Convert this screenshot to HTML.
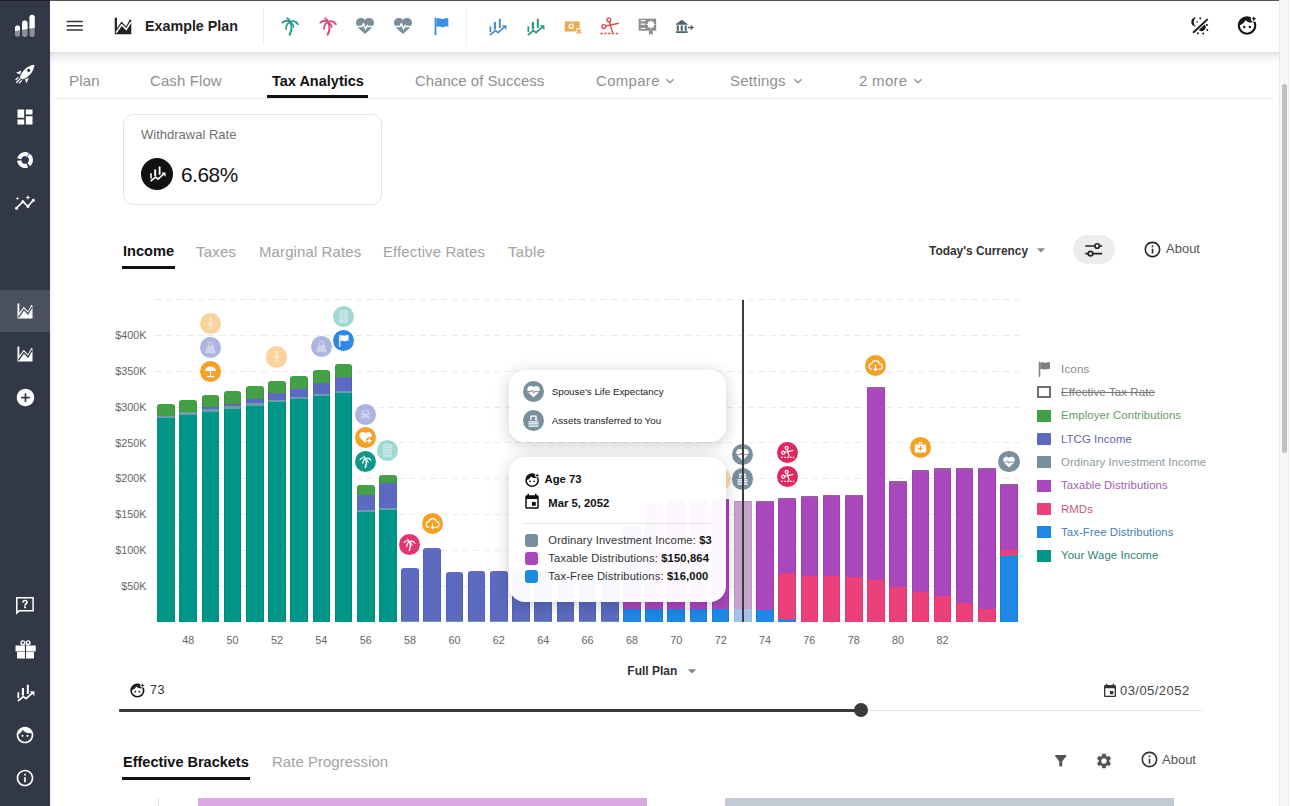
<!DOCTYPE html>
<html><head><meta charset="utf-8"><title>Tax Analytics</title>
<style>
html,body{margin:0;padding:0;}
body{width:1290px;height:806px;overflow:hidden;position:relative;background:#fff;font-family:"Liberation Sans", sans-serif;}
.t{position:absolute;white-space:nowrap;font-family:"Liberation Sans", sans-serif;}
svg{display:block}
</style></head><body>
<div style="position:absolute;left:0.00px;top:0.00px;width:50.00px;height:806.00px;background:#323846;"></div>
<div style="position:absolute;left:0.00px;top:290.00px;width:50.00px;height:42.00px;background:#4a505d;"></div>
<svg style="position:absolute;left:13.0px;top:14.0px;" width="24" height="24" viewBox="0 0 24 24" fill="#fff"><defs><clipPath id="lg"><path d="M2 14.1a2.5 2.5 0 0 1 5 0v6.2a2.5 2.5 0 0 1-5 0zM9.1 9.1a2.7 2.7 0 0 1 5.4 0v11.2a2.7 2.7 0 0 1-5.4 0zM16.5 3.4a2.6 2.6 0 0 1 5.2 0v16.9a2.6 2.6 0 0 1-5.2 0z"/></clipPath></defs><g clip-path="url(#lg)"><rect x="0" y="0" width="24" height="26" fill="#8b909b"/><path d="M0 0H24V13.4L0 17.4z" fill="#fff"/></g></svg>
<svg style="position:absolute;left:15.0px;top:64.0px;" width="20" height="20" viewBox="0 0 24 24" fill="#fff"><path d="M23.2 0.8C17 1.2 10.5 6 7.4 12.2L5.8 15.6l3 3 3.4-1.6C18.4 13.9 23 7.3 23.2 0.8z"/><circle cx="16.4" cy="7.6" r="1.9" fill="#323846"/><path d="M7.6 7.8L1.2 10.6l4.8 2zM16.6 16.8l-2.8 6.4-2-4.8z"/><path d="M1.5 22.5l5.2-5.2M4.6 23.2l3.4-3.4M0.8 19.2l3.4-3.4" stroke="#fff" stroke-width="1.5"/></svg>
<svg style="position:absolute;left:15.0px;top:107.0px;" width="20" height="20" viewBox="0 0 24 24" fill="#fff"><path d="M3 13h8V3H3v10zm0 8h8v-6H3v6zm10 0h8V11h-8v10zm0-18v6h8V3h-8z" /></svg>
<svg style="position:absolute;left:15.0px;top:150.0px;" width="20" height="20" viewBox="0 0 24 24" fill="#fff"><circle cx="12" cy="12" r="7.1" fill="none" stroke="#fff" stroke-width="5" stroke-dasharray="12.9 1.97" transform="rotate(-55 12 12)"/></svg>
<svg style="position:absolute;left:15.0px;top:192.0px;" width="20" height="20" viewBox="0 0 24 24" fill="#fff"><path d="M1.5 19.5L9.5 11.5l6 5.8 6.8-7.7" fill="none" stroke="#fff" stroke-width="2"/><circle cx="1.8" cy="19.4" r="1.8"/><circle cx="9.5" cy="11.5" r="1.8"/><circle cx="15.5" cy="17.3" r="1.8"/><circle cx="22" cy="9.8" r="1.8"/><path d="M3 5.5l.6 1.7 1.7.6-1.7.6L3 10.1l-.6-1.7L.7 7.8l1.7-.6zM15.5 3.5l.8 2.2 2.2.8-2.2.8-.8 2.2-.8-2.2-2.2-.8 2.2-.8z" /></svg>
<svg style="position:absolute;left:15.0px;top:301.0px;" width="20" height="20" viewBox="0 0 24 24" fill="#fff"><path d="M3 3h2.2v11.2L10.5 7l5 5.2L19.8 4.5 21 5.4V21H3z" /><path d="M4.2 19.6L10.6 10.2l5 5.2L20.6 7.2" fill="none" stroke="#4a505d" stroke-width="1.6"/></svg>
<svg style="position:absolute;left:15.0px;top:344.0px;" width="20" height="20" viewBox="0 0 24 24" fill="#fff"><path d="M3 3h2.2v11.2L10.5 7l5 5.2L19.8 4.5 21 5.4V21H3z" /><path d="M4.2 19.6L10.6 10.2l5 5.2L20.6 7.2" fill="none" stroke="#323846" stroke-width="1.6"/></svg>
<svg style="position:absolute;left:14.5px;top:386.5px;" width="21" height="21" viewBox="0 0 24 24" fill="#fff"><path d="M12 2C6.48 2 2 6.48 2 12s4.48 10 10 10 10-4.48 10-10S17.52 2 12 2zm5 11h-4v4h-2v-4H7v-2h4V7h2v4h4v2z" /></svg>
<svg style="position:absolute;left:15.0px;top:595.0px;" width="20" height="20" viewBox="0 0 24 24" fill="#fff"><path fill-rule="evenodd" d="M1.2 2.4h21.4v17.5H5.5L1.2 23.6zM3 4.2v15.1l1.8-1.2h16V4.2z"/><path d="M12 5.8c-2 0-3.4 1.3-3.4 3.1h2.1c0-.8.5-1.3 1.3-1.3s1.3.5 1.3 1.2c0 1.4-2.4 1.4-2.4 3.9h2.1c0-1.8 2.4-2 2.4-4 0-1.8-1.4-2.9-3.4-2.9zM10.9 13.6h2.2v2.2h-2.2z" /></svg>
<svg style="position:absolute;left:14.5px;top:638.5px;" width="21" height="21" viewBox="0 0 24 24" fill="#fff"><path d="M0.6 7.4h23.1v6.9H0.6zM2.3 14.9h19.4v7.4H2.3z"/><circle cx="9" cy="4.2" r="2.1" fill="none" stroke="#fff" stroke-width="1.6"/><circle cx="15" cy="4.2" r="2.1" fill="none" stroke="#fff" stroke-width="1.6"/><path d="M12 7.4v14.9" stroke="#323846" stroke-width="1.3"/></svg>
<svg style="position:absolute;left:14.5px;top:681.5px;" width="21" height="21" viewBox="0 0 24 24" fill="#fff"><path d="M2.8 11.6h2v6.6h-2zM7.8 6.8h2.5v8.5H7.8zM13.5 3.1h2.3v10.6h-2.3z" /><path d="M3.3 21.7L9.6 16.6l3.1 2.5 7.6-6.9" fill="none" stroke="#fff" stroke-width="2"/><path d="M16.8 10.6h5.4v5.4z" /></svg>
<svg style="position:absolute;left:15.0px;top:725.0px;" width="20" height="20" viewBox="0 0 24 24" fill="#fff"><path d="M12 2C6.48 2 2 6.48 2 12s4.48 10 10 10 10-4.48 10-10S17.52 2 12 2zm0 18c-4.41 0-8-3.59-8-8 0-.29.02-.58.05-.86 2.36-1.05 4.23-2.98 5.21-5.37C11.07 8.33 14.05 10 17.42 10c.78 0 1.53-.09 2.25-.26.21.71.33 1.47.33 2.26 0 4.41-3.59 8-8 8z" /><circle cx="9" cy="13" r="1.25"/><circle cx="15" cy="13" r="1.25"/></svg>
<svg style="position:absolute;left:15.0px;top:768.0px;" width="20" height="20" viewBox="0 0 24 24" fill="#fff"><path d="M11 7h2v2h-2zm0 4h2v6h-2zm1-9C6.48 2 2 6.48 2 12s4.48 10 10 10 10-4.48 10-10S17.52 2 12 2zm0 18c-4.41 0-8-3.59-8-8s3.59-8 8-8 8 3.59 8 8-3.59 8-8 8z" /></svg>
<div style="position:absolute;left:0.00px;top:0.00px;width:50.00px;height:1.00px;background:#1c2030;z-index:5"></div>
<div style="position:absolute;left:50.00px;top:0.00px;width:1229.00px;height:1.00px;background:#555555;z-index:5"></div>
<div style="position:absolute;left:50.00px;top:51.50px;width:1229.00px;height:13.00px;background:linear-gradient(rgba(60,70,100,0.15),rgba(60,70,100,0.09) 30%,rgba(60,70,100,0.03) 65%,rgba(60,70,100,0));z-index:2"></div>
<div style="position:absolute;left:50.00px;top:52.00px;width:5.00px;height:754.00px;background:linear-gradient(90deg,rgba(60,70,100,0.06),rgba(60,70,100,0));z-index:2"></div>
<div style="position:absolute;left:50.00px;top:1.00px;width:1229.00px;height:50.50px;background:#fff;z-index:3"></div>
<div style="position:absolute;left:0;top:0;width:1290px;height:52px;z-index:4"><svg style="position:absolute;left:64.2px;top:15.2px;" width="21.5" height="21.5" viewBox="0 0 24 24" fill="#333"><path d="M3 17.6h18v-1.7H3zm0-4.75h18v-1.7H3zM3 6.4v1.7h18V6.4z" /></svg>
<svg style="position:absolute;left:111.7px;top:14.8px;" width="22" height="22" viewBox="0 0 24 24" fill="#212121"><path d="M3 3h2.4v11.5L10.4 7.2l5 5.3L19.6 4.6 21 5.6V21H3z" /><path d="M4.4 19.4L10.6 10.6l5 5.1L20.7 7.5" fill="none" stroke="#fff" stroke-width="1.7"/></svg>
<div class="t" style="left:145px;top:15.8px;font-size:14.3px;line-height:20px;color:#212121;font-weight:700;">Example Plan</div>
<div style="position:absolute;left:263.00px;top:8.00px;width:1.00px;height:36.50px;background:#eceef0;"></div>
<div style="position:absolute;left:466.00px;top:8.00px;width:1.00px;height:36.50px;background:#eceef0;"></div>
<svg style="position:absolute;left:279.0px;top:15.0px;color:#2a9d8f" width="22" height="22" viewBox="0 0 24 24" fill="#26a69a"><g fill="none" stroke="currentColor" stroke-linecap="round"><path d="M12.6 8.5C14.2 12.5 13.8 17 11.6 21.6" stroke-width="2.2"/><path d="M12.5 7.6C10 5.6 6 5.8 3.6 8.4" stroke-width="2"/><path d="M12.4 7.8C9.6 8.5 7.8 11 7.6 15.2" stroke-width="1.8"/><path d="M12.5 7.6C15.2 6 18.6 7 20.6 10" stroke-width="2"/><path d="M12.8 8C14.6 9 15.8 10.8 16.2 13.4" stroke-width="1.6"/><path d="M12.4 7.4C11.6 5.2 10.4 3.8 8.6 3.2" stroke-width="1.6"/></g></svg>
<svg style="position:absolute;left:317.0px;top:15.0px;color:#d94a7a" width="22" height="22" viewBox="0 0 24 24" fill="#e0457b"><g fill="none" stroke="currentColor" stroke-linecap="round"><path d="M12.6 8.5C14.2 12.5 13.8 17 11.6 21.6" stroke-width="2.2"/><path d="M12.5 7.6C10 5.6 6 5.8 3.6 8.4" stroke-width="2"/><path d="M12.4 7.8C9.6 8.5 7.8 11 7.6 15.2" stroke-width="1.8"/><path d="M12.5 7.6C15.2 6 18.6 7 20.6 10" stroke-width="2"/><path d="M12.8 8C14.6 9 15.8 10.8 16.2 13.4" stroke-width="1.6"/><path d="M12.4 7.4C11.6 5.2 10.4 3.8 8.6 3.2" stroke-width="1.6"/></g></svg>
<svg style="position:absolute;left:354.0px;top:15.0px;" width="22" height="22" viewBox="0 0 24 24" fill="#78909c"><path d="M12 20.6l-1.4-1.2C5.6 15 2.2 12.2 2.2 8.6 2.2 5.6 4.5 3.4 7.5 3.4c1.7 0 3.4.7 4.5 2C13.1 4.1 14.8 3.4 16.5 3.4c3 0 5.3 2.2 5.3 5.2 0 3.6-3.4 6.4-8.4 10.8z" /><path d="M1 12.6h7.6l1.6-2.8 2.4 5.2 1.8-3.4 1 1h7.6" fill="none" stroke="#fff" stroke-width="1.7"/></svg>
<svg style="position:absolute;left:392.0px;top:15.0px;" width="22" height="22" viewBox="0 0 24 24" fill="#78909c"><path d="M12 20.6l-1.4-1.2C5.6 15 2.2 12.2 2.2 8.6 2.2 5.6 4.5 3.4 7.5 3.4c1.7 0 3.4.7 4.5 2C13.1 4.1 14.8 3.4 16.5 3.4c3 0 5.3 2.2 5.3 5.2 0 3.6-3.4 6.4-8.4 10.8z" /><path d="M1 12.6h7.6l1.6-2.8 2.4 5.2 1.8-3.4 1 1h7.6" fill="none" stroke="#fff" stroke-width="1.7"/></svg>
<svg style="position:absolute;left:430.0px;top:15.0px;" width="22" height="22" viewBox="0 0 24 24" fill="#3d8fe0"><path d="M5 3h2v19H5z" /><path d="M7 4c3-1.5 5 1 8 0s4-1 5 0v9c-1-1-2-1-5 0s-5-1.5-8 0z" /></svg>
<svg style="position:absolute;left:486.5px;top:15.5px;color:#4b91cf" width="21" height="21" viewBox="0 0 24 24" fill="#4b91cf"><path d="M2.8 11.6h2v6.6h-2zM7.8 6.8h2.5v8.5H7.8zM13.5 3.1h2.3v10.6h-2.3z" /><path d="M3.3 21.7L9.6 16.6l3.1 2.5 7.6-6.9" fill="none" stroke="currentColor" stroke-width="2"/><path d="M16.8 10.6h5.4v5.4z" /></svg>
<svg style="position:absolute;left:524.5px;top:15.5px;color:#2a9485" width="21" height="21" viewBox="0 0 24 24" fill="#2a9485"><path d="M2.8 11.6h2v6.6h-2zM7.8 6.8h2.5v8.5H7.8zM13.5 3.1h2.3v10.6h-2.3z" /><path d="M3.3 21.7L9.6 16.6l3.1 2.5 7.6-6.9" fill="none" stroke="currentColor" stroke-width="2"/><path d="M16.8 10.6h5.4v5.4z" /></svg>
<svg style="position:absolute;left:561.5px;top:15.5px;color:#e9ab4f" width="21" height="21" viewBox="0 0 24 24" fill="#e9ab4f"><path d="M3.1 6.3h17.2v11.4H3.1z" /><circle cx="10.5" cy="11.6" r="3" fill="#fff"/><circle cx="10.5" cy="11.6" r="1.5"/><path d="M16 14h8v10h-8z" fill="#fff"/><path d="M16.8 15.2l4.8 4.8M21.6 15.2l-4.8 4.8" stroke="currentColor" stroke-width="1.9"/></svg>
<svg style="position:absolute;left:599.0px;top:15.0px;color:#d8504c" width="22" height="22" viewBox="0 0 24 24" fill="none"><circle cx="10.7" cy="5.2" r="2.1" fill="none" stroke="currentColor" stroke-width="1.5"/><circle cx="5.2" cy="12.6" r="2.1" fill="none" stroke="currentColor" stroke-width="1.5"/><path d="M11.4 7.2l3.4 12.2M7.2 12l14.4-3" stroke="currentColor" stroke-width="1.6"/><path d="M1.5 20.2h21" stroke="currentColor" stroke-width="1.6" stroke-dasharray="2.6 1.6"/></svg>
<svg style="position:absolute;left:636.5px;top:15.5px;" width="21" height="21" viewBox="0 0 24 24" fill="#8d8d8d"><path d="M1.9 3.1h20v13.7h-20z" /><path d="M4.2 4.7h5.3v1.3H4.2zM4.2 8.7h5.3v1.3H4.2zM4.2 13.6h5.3v1.3H4.2z" fill="#fff"/><path d="M15.8 4.6l1.2 2 2.3-.4-.4 2.3 2 1.2-2 1.2.4 2.3-2.3-.4-1.2 2-1.2-2-2.3.4.4-2.3-2-1.2 2-1.2-.4-2.3 2.3.4z" fill="#fff"/><path d="M13.6 16.8h4.4v4.8l-2.2-1.4-2.2 1.4z" /></svg>
<svg style="position:absolute;left:673.5px;top:15.5px;" width="21" height="21" viewBox="0 0 24 24" fill="#50646f"><path d="M8.9 4.3L2.2 9.2v.9h13.4v-.9zM3.2 10.9h2.4v5.9H3.2zM7.7 10.9h2.4v5.9H7.7zM12.2 10.9h2.4v5.9h-2.4zM2.2 17.3h13.4v2H2.2z" /><path d="M16 12.3h3.2v-2.3l3.5 3.2-3.5 3.2v-2.3H16z" /></svg>
<svg style="position:absolute;left:1189.0px;top:15.0px;" width="22" height="22" viewBox="0 0 24 24" fill="#1a1a1a"><path d="M7.6 2.4A5.1 5.1 0 0 0 7.6 12.6 6.4 6.4 0 0 1 7.6 2.4z"/><path d="M12.2 1.8l.5 1.2 1.2.5-1.2.5-.5 1.2-.5-1.2-1.2-.5 1.2-.5z"/><circle cx="8.8" cy="7.6" r=".9"/><path d="M4.4 19.3L20.4 4.5" stroke="#1a1a1a" stroke-width="2.1"/><path d="M17.13 10.32A4.4 4.4 0 0 1 10.67 16.28z"/><circle cx="19.6" cy="10.8" r="1.1"/><circle cx="20" cy="16.3" r="1.1"/><circle cx="15.6" cy="20.3" r="1.1"/><circle cx="9.7" cy="19.8" r="1.1"/></svg>
<svg style="position:absolute;left:1235.5px;top:13.3px;" width="23" height="23" viewBox="0 0 24 24" fill="#1a1a1a"><circle cx="11.5" cy="13" r="8.6" fill="none" stroke="#111" stroke-width="2.2"/><path d="M3.2 12.8A8.6 8.6 0 0 1 19.2 9.2C16 10.6 12.4 10.2 10 7.6 8.6 10.4 6 12.3 3.2 12.8z" /><circle cx="8.6" cy="14.6" r="1.25"/><circle cx="14.4" cy="14.6" r="1.25"/><circle cx="18.6" cy="6.1" r="3.2" fill="#fff"/><path d="M18.6 3.4l.8 1.9 1.9.8-1.9.8-.8 1.9-.8-1.9-1.9-.8 1.9-.8z" /></svg>
</div>
<div style="position:absolute;left:54.00px;top:98.00px;width:1219.00px;height:1.00px;background:#ececec;"></div>
<div class="t" style="left:69px;top:70.0px;font-size:15px;line-height:21px;color:#909090;font-weight:400;letter-spacing:0.2px">Plan</div>
<div class="t" style="left:150px;top:70.0px;font-size:15px;line-height:21px;color:#909090;font-weight:400;letter-spacing:0.1px">Cash Flow</div>
<div class="t" style="left:272px;top:70.5px;font-size:14.5px;line-height:20px;color:#111;font-weight:700;">Tax Analytics</div>
<div style="position:absolute;left:267.00px;top:95.00px;width:101.00px;height:3.00px;background:#111;"></div>
<div class="t" style="left:415px;top:70.0px;font-size:15px;line-height:21px;color:#909090;font-weight:400;">Chance of Success</div>
<div class="t" style="left:596px;top:70.0px;font-size:15px;line-height:21px;color:#909090;font-weight:400;letter-spacing:0.3px">Compare</div>
<svg style="position:absolute;left:662.0px;top:72.5px;" width="16" height="16" viewBox="0 0 24 24" fill="#909090"><path d="M16.59 8.59L12 13.17 7.41 8.59 6 10l6 6 6-6z" /></svg>
<div class="t" style="left:730px;top:70.0px;font-size:15px;line-height:21px;color:#909090;font-weight:400;letter-spacing:0.2px">Settings</div>
<svg style="position:absolute;left:790.0px;top:72.5px;" width="16" height="16" viewBox="0 0 24 24" fill="#909090"><path d="M16.59 8.59L12 13.17 7.41 8.59 6 10l6 6 6-6z" /></svg>
<div class="t" style="left:859px;top:70.0px;font-size:15px;line-height:21px;color:#909090;font-weight:400;letter-spacing:0.3px">2 more</div>
<svg style="position:absolute;left:910.0px;top:72.5px;" width="16" height="16" viewBox="0 0 24 24" fill="#909090"><path d="M16.59 8.59L12 13.17 7.41 8.59 6 10l6 6 6-6z" /></svg>
<div style="position:absolute;left:122.50px;top:114.00px;width:259.50px;height:90.50px;background:#fff;border:1px solid #e3e3e3;border-radius:10px;box-sizing:border-box"></div>
<div class="t" style="left:141px;top:125.6px;font-size:13px;line-height:18px;color:#707070;font-weight:400;">Withdrawal Rate</div>
<div style="position:absolute;left:141px;top:157.5px;width:32px;height:32px;border-radius:50%;background:#111"></div>
<svg style="position:absolute;left:147.9px;top:164.1px;color:#fff" width="19" height="19" viewBox="0 0 24 24" fill="#fff"><path d="M2.8 11.6h2v6.6h-2zM7.8 6.8h2.5v8.5H7.8zM13.5 3.1h2.3v10.6h-2.3z" /><path d="M3.3 21.7L9.6 16.6l3.1 2.5 7.6-6.9" fill="none" stroke="currentColor" stroke-width="2"/><path d="M16.8 10.6h5.4v5.4z" /></svg>
<div class="t" style="left:181px;top:159.9px;font-size:20.8px;line-height:29px;color:#111;font-weight:400;letter-spacing:-0.45px">6.68%</div>
<div class="t" style="left:123px;top:241.0px;font-size:14.6px;line-height:20px;color:#111;font-weight:700;">Income</div>
<div style="position:absolute;left:122.00px;top:266.00px;width:52.50px;height:3.00px;background:#111;"></div>
<div class="t" style="left:196px;top:240.5px;font-size:15px;line-height:21px;color:#a3a3a3;font-weight:400;letter-spacing:0.2px">Taxes</div>
<div class="t" style="left:259px;top:240.5px;font-size:15px;line-height:21px;color:#a3a3a3;font-weight:400;letter-spacing:0.1px">Marginal Rates</div>
<div class="t" style="left:383px;top:240.5px;font-size:15px;line-height:21px;color:#a3a3a3;font-weight:400;letter-spacing:0.1px">Effective Rates</div>
<div class="t" style="left:508px;top:240.5px;font-size:15px;line-height:21px;color:#a3a3a3;font-weight:400;letter-spacing:0.3px">Table</div>
<div class="t" style="left:929px;top:242.5px;font-size:11.9px;line-height:16px;color:#333;font-weight:700;">Today's Currency</div>
<svg style="position:absolute;left:1031.0px;top:240.0px;" width="20" height="20" viewBox="0 0 24 24" fill="#888"><path d="M7 10l5 5 5-5z" /></svg>
<div style="position:absolute;left:1073.00px;top:235.00px;width:41.50px;height:29.00px;background:#ececec;border-radius:15px"></div>
<svg style="position:absolute;left:1084.0px;top:239.5px;" width="20" height="20" viewBox="0 0 24 24" fill="none"><path d="M1.5 7.2h11.5M18.6 7.2h3.2M1.5 16.4h3.5M10.6 16.4h11.2" stroke="#222" stroke-width="2"/><circle cx="15.8" cy="7.2" r="2.7" fill="none" stroke="#222" stroke-width="2"/><circle cx="7.8" cy="16.4" r="2.7" fill="none" stroke="#222" stroke-width="2"/></svg>
<svg style="position:absolute;left:1142.5px;top:239.5px;" width="19" height="19" viewBox="0 0 24 24" fill="#222"><path d="M11 7h2v2h-2zm0 4h2v6h-2zm1-9C6.48 2 2 6.48 2 12s4.48 10 10 10 10-4.48 10-10S17.52 2 12 2zm0 18c-4.41 0-8-3.59-8-8s3.59-8 8-8 8 3.59 8 8-3.59 8-8 8z" /></svg>
<div class="t" style="left:1166px;top:240.0px;font-size:13px;line-height:18px;color:#555;font-weight:400;">About</div>
<div style="position:absolute;left:155px;top:585.7px;width:866px;height:1px;background:repeating-linear-gradient(90deg,#ebebeb 0 6px,transparent 6px 10.6px)"></div>
<div class="t" style="right:1143.5px;top:578.9px;font-size:10.8px;line-height:15px;color:#666;font-weight:400;">$50K</div>
<div style="position:absolute;left:155px;top:549.9px;width:866px;height:1px;background:repeating-linear-gradient(90deg,#ebebeb 0 6px,transparent 6px 10.6px)"></div>
<div class="t" style="right:1143.5px;top:543.1px;font-size:10.8px;line-height:15px;color:#666;font-weight:400;">$100K</div>
<div style="position:absolute;left:155px;top:514.0px;width:866px;height:1px;background:repeating-linear-gradient(90deg,#ebebeb 0 6px,transparent 6px 10.6px)"></div>
<div class="t" style="right:1143.5px;top:507.2px;font-size:10.8px;line-height:15px;color:#666;font-weight:400;">$150K</div>
<div style="position:absolute;left:155px;top:478.2px;width:866px;height:1px;background:repeating-linear-gradient(90deg,#ebebeb 0 6px,transparent 6px 10.6px)"></div>
<div class="t" style="right:1143.5px;top:471.4px;font-size:10.8px;line-height:15px;color:#666;font-weight:400;">$200K</div>
<div style="position:absolute;left:155px;top:442.3px;width:866px;height:1px;background:repeating-linear-gradient(90deg,#ebebeb 0 6px,transparent 6px 10.6px)"></div>
<div class="t" style="right:1143.5px;top:435.5px;font-size:10.8px;line-height:15px;color:#666;font-weight:400;">$250K</div>
<div style="position:absolute;left:155px;top:406.5px;width:866px;height:1px;background:repeating-linear-gradient(90deg,#ebebeb 0 6px,transparent 6px 10.6px)"></div>
<div class="t" style="right:1143.5px;top:399.7px;font-size:10.8px;line-height:15px;color:#666;font-weight:400;">$300K</div>
<div style="position:absolute;left:155px;top:370.6px;width:866px;height:1px;background:repeating-linear-gradient(90deg,#ebebeb 0 6px,transparent 6px 10.6px)"></div>
<div class="t" style="right:1143.5px;top:363.8px;font-size:10.8px;line-height:15px;color:#666;font-weight:400;">$350K</div>
<div style="position:absolute;left:155px;top:334.7px;width:866px;height:1px;background:repeating-linear-gradient(90deg,#ebebeb 0 6px,transparent 6px 10.6px)"></div>
<div class="t" style="right:1143.5px;top:327.9px;font-size:10.8px;line-height:15px;color:#666;font-weight:400;">$400K</div>
<div style="position:absolute;left:155px;top:298.9px;width:866px;height:1px;background:repeating-linear-gradient(90deg,#ebebeb 0 6px,transparent 6px 10.6px)"></div>
<div style="position:absolute;left:157.25px;top:404.40px;width:17.6px;height:217.60px;overflow:hidden;border-radius:3px 3px 0 0"><div style="position:absolute;left:0;top:13.50px;width:100%;height:204.10px;background:#009688"></div><div style="position:absolute;left:0;top:11.50px;width:100%;height:2.00px;background:#6a9dad"></div><div style="position:absolute;left:0;top:0.00px;width:100%;height:11.50px;background:#43a047"></div><div style="position:absolute;inset:0;box-shadow:inset 1px 0 rgba(0,0,0,0.07),inset -1px 0 rgba(0,0,0,0.07)"></div></div>
<div style="position:absolute;left:179.43px;top:399.90px;width:17.6px;height:222.10px;overflow:hidden;border-radius:3px 3px 0 0"><div style="position:absolute;left:0;top:14.90px;width:100%;height:207.20px;background:#009688"></div><div style="position:absolute;left:0;top:12.60px;width:100%;height:2.30px;background:#6a9dad"></div><div style="position:absolute;left:0;top:0.00px;width:100%;height:12.60px;background:#43a047"></div><div style="position:absolute;inset:0;box-shadow:inset 1px 0 rgba(0,0,0,0.07),inset -1px 0 rgba(0,0,0,0.07)"></div></div>
<div style="position:absolute;left:201.62px;top:395.40px;width:17.6px;height:226.60px;overflow:hidden;border-radius:3px 3px 0 0"><div style="position:absolute;left:0;top:16.60px;width:100%;height:210.00px;background:#009688"></div><div style="position:absolute;left:0;top:13.80px;width:100%;height:2.80px;background:#6a9dad"></div><div style="position:absolute;left:0;top:12.10px;width:100%;height:1.70px;background:#5c6bc0"></div><div style="position:absolute;left:0;top:0.00px;width:100%;height:12.10px;background:#43a047"></div><div style="position:absolute;inset:0;box-shadow:inset 1px 0 rgba(0,0,0,0.07),inset -1px 0 rgba(0,0,0,0.07)"></div></div>
<div style="position:absolute;left:223.80px;top:391.10px;width:17.6px;height:230.90px;overflow:hidden;border-radius:3px 3px 0 0"><div style="position:absolute;left:0;top:17.90px;width:100%;height:213.00px;background:#009688"></div><div style="position:absolute;left:0;top:15.30px;width:100%;height:2.60px;background:#6a9dad"></div><div style="position:absolute;left:0;top:11.90px;width:100%;height:3.40px;background:#5c6bc0"></div><div style="position:absolute;left:0;top:0.00px;width:100%;height:11.90px;background:#43a047"></div><div style="position:absolute;inset:0;box-shadow:inset 1px 0 rgba(0,0,0,0.07),inset -1px 0 rgba(0,0,0,0.07)"></div></div>
<div style="position:absolute;left:245.99px;top:386.00px;width:17.6px;height:236.00px;overflow:hidden;border-radius:3px 3px 0 0"><div style="position:absolute;left:0;top:19.80px;width:100%;height:216.20px;background:#009688"></div><div style="position:absolute;left:0;top:17.40px;width:100%;height:2.40px;background:#6a9dad"></div><div style="position:absolute;left:0;top:12.60px;width:100%;height:4.80px;background:#5c6bc0"></div><div style="position:absolute;left:0;top:0.00px;width:100%;height:12.60px;background:#43a047"></div><div style="position:absolute;inset:0;box-shadow:inset 1px 0 rgba(0,0,0,0.07),inset -1px 0 rgba(0,0,0,0.07)"></div></div>
<div style="position:absolute;left:268.17px;top:381.30px;width:17.6px;height:240.70px;overflow:hidden;border-radius:3px 3px 0 0"><div style="position:absolute;left:0;top:21.20px;width:100%;height:219.50px;background:#009688"></div><div style="position:absolute;left:0;top:19.20px;width:100%;height:2.00px;background:#6a9dad"></div><div style="position:absolute;left:0;top:11.70px;width:100%;height:7.50px;background:#5c6bc0"></div><div style="position:absolute;left:0;top:0.00px;width:100%;height:11.70px;background:#43a047"></div><div style="position:absolute;inset:0;box-shadow:inset 1px 0 rgba(0,0,0,0.07),inset -1px 0 rgba(0,0,0,0.07)"></div></div>
<div style="position:absolute;left:290.35px;top:375.90px;width:17.6px;height:246.10px;overflow:hidden;border-radius:3px 3px 0 0"><div style="position:absolute;left:0;top:23.20px;width:100%;height:222.90px;background:#009688"></div><div style="position:absolute;left:0;top:21.50px;width:100%;height:1.70px;background:#6a9dad"></div><div style="position:absolute;left:0;top:13.10px;width:100%;height:8.40px;background:#5c6bc0"></div><div style="position:absolute;left:0;top:0.00px;width:100%;height:13.10px;background:#43a047"></div><div style="position:absolute;inset:0;box-shadow:inset 1px 0 rgba(0,0,0,0.07),inset -1px 0 rgba(0,0,0,0.07)"></div></div>
<div style="position:absolute;left:312.54px;top:370.10px;width:17.6px;height:251.90px;overflow:hidden;border-radius:3px 3px 0 0"><div style="position:absolute;left:0;top:25.70px;width:100%;height:226.20px;background:#009688"></div><div style="position:absolute;left:0;top:24.00px;width:100%;height:1.70px;background:#6a9dad"></div><div style="position:absolute;left:0;top:13.40px;width:100%;height:10.60px;background:#5c6bc0"></div><div style="position:absolute;left:0;top:0.00px;width:100%;height:13.40px;background:#43a047"></div><div style="position:absolute;inset:0;box-shadow:inset 1px 0 rgba(0,0,0,0.07),inset -1px 0 rgba(0,0,0,0.07)"></div></div>
<div style="position:absolute;left:334.72px;top:364.30px;width:17.6px;height:257.70px;overflow:hidden;border-radius:3px 3px 0 0"><div style="position:absolute;left:0;top:28.70px;width:100%;height:229.00px;background:#009688"></div><div style="position:absolute;left:0;top:26.50px;width:100%;height:2.20px;background:#6a9dad"></div><div style="position:absolute;left:0;top:13.10px;width:100%;height:13.40px;background:#5c6bc0"></div><div style="position:absolute;left:0;top:0.00px;width:100%;height:13.10px;background:#43a047"></div><div style="position:absolute;inset:0;box-shadow:inset 1px 0 rgba(0,0,0,0.07),inset -1px 0 rgba(0,0,0,0.07)"></div></div>
<div style="position:absolute;left:356.91px;top:485.20px;width:17.6px;height:136.80px;overflow:hidden;border-radius:3px 3px 0 0"><div style="position:absolute;left:0;top:26.80px;width:100%;height:110.00px;background:#009688"></div><div style="position:absolute;left:0;top:24.60px;width:100%;height:2.20px;background:#6a9dad"></div><div style="position:absolute;left:0;top:9.50px;width:100%;height:15.10px;background:#5c6bc0"></div><div style="position:absolute;left:0;top:0.00px;width:100%;height:9.50px;background:#43a047"></div><div style="position:absolute;inset:0;box-shadow:inset 1px 0 rgba(0,0,0,0.07),inset -1px 0 rgba(0,0,0,0.07)"></div></div>
<div style="position:absolute;left:379.09px;top:474.80px;width:17.6px;height:147.20px;overflow:hidden;border-radius:3px 3px 0 0"><div style="position:absolute;left:0;top:35.50px;width:100%;height:111.70px;background:#009688"></div><div style="position:absolute;left:0;top:33.30px;width:100%;height:2.20px;background:#6a9dad"></div><div style="position:absolute;left:0;top:8.70px;width:100%;height:24.60px;background:#5c6bc0"></div><div style="position:absolute;left:0;top:0.00px;width:100%;height:8.70px;background:#43a047"></div><div style="position:absolute;inset:0;box-shadow:inset 1px 0 rgba(0,0,0,0.07),inset -1px 0 rgba(0,0,0,0.07)"></div></div>
<div style="position:absolute;left:401.27px;top:568.20px;width:17.6px;height:53.80px;overflow:hidden;border-radius:3px 3px 0 0"><div style="position:absolute;left:0;top:52.60px;width:100%;height:1.20px;background:#78909c"></div><div style="position:absolute;left:0;top:0.00px;width:100%;height:52.60px;background:#5c6bc0"></div><div style="position:absolute;inset:0;box-shadow:inset 1px 0 rgba(0,0,0,0.07),inset -1px 0 rgba(0,0,0,0.07)"></div></div>
<div style="position:absolute;left:423.46px;top:548.20px;width:17.6px;height:73.80px;overflow:hidden;border-radius:3px 3px 0 0"><div style="position:absolute;left:0;top:72.60px;width:100%;height:1.20px;background:#78909c"></div><div style="position:absolute;left:0;top:0.00px;width:100%;height:72.60px;background:#5c6bc0"></div><div style="position:absolute;inset:0;box-shadow:inset 1px 0 rgba(0,0,0,0.07),inset -1px 0 rgba(0,0,0,0.07)"></div></div>
<div style="position:absolute;left:445.64px;top:572.00px;width:17.6px;height:50.00px;overflow:hidden;border-radius:3px 3px 0 0"><div style="position:absolute;left:0;top:48.80px;width:100%;height:1.20px;background:#78909c"></div><div style="position:absolute;left:0;top:0.00px;width:100%;height:48.80px;background:#5c6bc0"></div><div style="position:absolute;inset:0;box-shadow:inset 1px 0 rgba(0,0,0,0.07),inset -1px 0 rgba(0,0,0,0.07)"></div></div>
<div style="position:absolute;left:467.83px;top:571.40px;width:17.6px;height:50.60px;overflow:hidden;border-radius:3px 3px 0 0"><div style="position:absolute;left:0;top:49.40px;width:100%;height:1.20px;background:#78909c"></div><div style="position:absolute;left:0;top:0.00px;width:100%;height:49.40px;background:#5c6bc0"></div><div style="position:absolute;inset:0;box-shadow:inset 1px 0 rgba(0,0,0,0.07),inset -1px 0 rgba(0,0,0,0.07)"></div></div>
<div style="position:absolute;left:490.01px;top:570.70px;width:17.6px;height:51.30px;overflow:hidden;border-radius:3px 3px 0 0"><div style="position:absolute;left:0;top:50.10px;width:100%;height:1.20px;background:#78909c"></div><div style="position:absolute;left:0;top:0.00px;width:100%;height:50.10px;background:#5c6bc0"></div><div style="position:absolute;inset:0;box-shadow:inset 1px 0 rgba(0,0,0,0.07),inset -1px 0 rgba(0,0,0,0.07)"></div></div>
<div style="position:absolute;left:512.19px;top:571.00px;width:17.6px;height:51.00px;overflow:hidden;border-radius:3px 3px 0 0"><div style="position:absolute;left:0;top:49.80px;width:100%;height:1.20px;background:#78909c"></div><div style="position:absolute;left:0;top:0.00px;width:100%;height:49.80px;background:#5c6bc0"></div><div style="position:absolute;inset:0;box-shadow:inset 1px 0 rgba(0,0,0,0.07),inset -1px 0 rgba(0,0,0,0.07)"></div></div>
<div style="position:absolute;left:534.38px;top:571.00px;width:17.6px;height:51.00px;overflow:hidden;border-radius:3px 3px 0 0"><div style="position:absolute;left:0;top:49.80px;width:100%;height:1.20px;background:#78909c"></div><div style="position:absolute;left:0;top:0.00px;width:100%;height:49.80px;background:#5c6bc0"></div><div style="position:absolute;inset:0;box-shadow:inset 1px 0 rgba(0,0,0,0.07),inset -1px 0 rgba(0,0,0,0.07)"></div></div>
<div style="position:absolute;left:556.56px;top:571.00px;width:17.6px;height:51.00px;overflow:hidden;border-radius:3px 3px 0 0"><div style="position:absolute;left:0;top:49.80px;width:100%;height:1.20px;background:#78909c"></div><div style="position:absolute;left:0;top:0.00px;width:100%;height:49.80px;background:#5c6bc0"></div><div style="position:absolute;inset:0;box-shadow:inset 1px 0 rgba(0,0,0,0.07),inset -1px 0 rgba(0,0,0,0.07)"></div></div>
<div style="position:absolute;left:578.75px;top:571.00px;width:17.6px;height:51.00px;overflow:hidden;border-radius:3px 3px 0 0"><div style="position:absolute;left:0;top:49.80px;width:100%;height:1.20px;background:#78909c"></div><div style="position:absolute;left:0;top:0.00px;width:100%;height:49.80px;background:#5c6bc0"></div><div style="position:absolute;inset:0;box-shadow:inset 1px 0 rgba(0,0,0,0.07),inset -1px 0 rgba(0,0,0,0.07)"></div></div>
<div style="position:absolute;left:600.93px;top:571.00px;width:17.6px;height:51.00px;overflow:hidden;border-radius:3px 3px 0 0"><div style="position:absolute;left:0;top:49.80px;width:100%;height:1.20px;background:#78909c"></div><div style="position:absolute;left:0;top:0.00px;width:100%;height:49.80px;background:#5c6bc0"></div><div style="position:absolute;inset:0;box-shadow:inset 1px 0 rgba(0,0,0,0.07),inset -1px 0 rgba(0,0,0,0.07)"></div></div>
<div style="position:absolute;left:623.11px;top:527.00px;width:17.6px;height:95.00px;overflow:hidden;border-radius:0.8px 0.8px 0 0"><div style="position:absolute;left:0;top:82.00px;width:100%;height:13.00px;background:#1e88e5"></div><div style="position:absolute;left:0;top:65.00px;width:100%;height:17.00px;background:#ab47bc"></div><div style="position:absolute;left:0;top:0.00px;width:100%;height:65.00px;background:#5c6bc0"></div><div style="position:absolute;inset:0;box-shadow:inset 1px 0 rgba(0,0,0,0.07),inset -1px 0 rgba(0,0,0,0.07)"></div></div>
<div style="position:absolute;left:645.30px;top:503.60px;width:17.6px;height:118.40px;overflow:hidden;border-radius:0.8px 0.8px 0 0"><div style="position:absolute;left:0;top:105.40px;width:100%;height:13.00px;background:#1e88e5"></div><div style="position:absolute;left:0;top:0.00px;width:100%;height:105.40px;background:#ab47bc"></div><div style="position:absolute;inset:0;box-shadow:inset 1px 0 rgba(0,0,0,0.07),inset -1px 0 rgba(0,0,0,0.07)"></div></div>
<div style="position:absolute;left:667.48px;top:500.00px;width:17.6px;height:122.00px;overflow:hidden;border-radius:0.8px 0.8px 0 0"><div style="position:absolute;left:0;top:109.00px;width:100%;height:13.00px;background:#1e88e5"></div><div style="position:absolute;left:0;top:0.00px;width:100%;height:109.00px;background:#ab47bc"></div><div style="position:absolute;inset:0;box-shadow:inset 1px 0 rgba(0,0,0,0.07),inset -1px 0 rgba(0,0,0,0.07)"></div></div>
<div style="position:absolute;left:689.67px;top:499.50px;width:17.6px;height:122.50px;overflow:hidden;border-radius:0.8px 0.8px 0 0"><div style="position:absolute;left:0;top:109.50px;width:100%;height:13.00px;background:#1e88e5"></div><div style="position:absolute;left:0;top:0.00px;width:100%;height:109.50px;background:#ab47bc"></div><div style="position:absolute;inset:0;box-shadow:inset 1px 0 rgba(0,0,0,0.07),inset -1px 0 rgba(0,0,0,0.07)"></div></div>
<div style="position:absolute;left:711.85px;top:499.00px;width:17.6px;height:123.00px;overflow:hidden;border-radius:0.8px 0.8px 0 0"><div style="position:absolute;left:0;top:110.00px;width:100%;height:13.00px;background:#1e88e5"></div><div style="position:absolute;left:0;top:0.00px;width:100%;height:110.00px;background:#ab47bc"></div><div style="position:absolute;inset:0;box-shadow:inset 1px 0 rgba(0,0,0,0.07),inset -1px 0 rgba(0,0,0,0.07)"></div></div>
<div style="position:absolute;left:734.03px;top:500.50px;width:17.6px;height:121.50px;overflow:hidden;border-radius:0.8px 0.8px 0 0"><div style="position:absolute;left:0;top:108.50px;width:100%;height:13.00px;background:#a3c4ea"></div><div style="position:absolute;left:0;top:1.50px;width:100%;height:107.00px;background:#c8a3d0"></div><div style="position:absolute;left:0;top:0.00px;width:100%;height:1.50px;background:#b593bd"></div><div style="position:absolute;inset:0;box-shadow:inset 1px 0 rgba(0,0,0,0.07),inset -1px 0 rgba(0,0,0,0.07)"></div></div>
<div style="position:absolute;left:756.22px;top:500.50px;width:17.6px;height:121.50px;overflow:hidden;border-radius:0.8px 0.8px 0 0"><div style="position:absolute;left:0;top:109.30px;width:100%;height:12.20px;background:#1e88e5"></div><div style="position:absolute;left:0;top:2.60px;width:100%;height:106.70px;background:#ab47bc"></div><div style="position:absolute;left:0;top:0.00px;width:100%;height:2.60px;background:#9a5aa6"></div><div style="position:absolute;inset:0;box-shadow:inset 1px 0 rgba(0,0,0,0.07),inset -1px 0 rgba(0,0,0,0.07)"></div></div>
<div style="position:absolute;left:778.40px;top:497.50px;width:17.6px;height:124.50px;overflow:hidden;border-radius:0.8px 0.8px 0 0"><div style="position:absolute;left:0;top:121.20px;width:100%;height:3.30px;background:#1e88e5"></div><div style="position:absolute;left:0;top:75.40px;width:100%;height:45.80px;background:#ec407a"></div><div style="position:absolute;left:0;top:2.60px;width:100%;height:72.80px;background:#ab47bc"></div><div style="position:absolute;left:0;top:0.00px;width:100%;height:2.60px;background:#9a5aa6"></div><div style="position:absolute;inset:0;box-shadow:inset 1px 0 rgba(0,0,0,0.07),inset -1px 0 rgba(0,0,0,0.07)"></div></div>
<div style="position:absolute;left:800.59px;top:495.50px;width:17.6px;height:126.50px;overflow:hidden;border-radius:0.8px 0.8px 0 0"><div style="position:absolute;left:0;top:80.20px;width:100%;height:46.30px;background:#ec407a"></div><div style="position:absolute;left:0;top:2.60px;width:100%;height:77.60px;background:#ab47bc"></div><div style="position:absolute;left:0;top:0.00px;width:100%;height:2.60px;background:#9a5aa6"></div><div style="position:absolute;inset:0;box-shadow:inset 1px 0 rgba(0,0,0,0.07),inset -1px 0 rgba(0,0,0,0.07)"></div></div>
<div style="position:absolute;left:822.77px;top:494.90px;width:17.6px;height:127.10px;overflow:hidden;border-radius:0.8px 0.8px 0 0"><div style="position:absolute;left:0;top:81.40px;width:100%;height:45.70px;background:#ec407a"></div><div style="position:absolute;left:0;top:2.60px;width:100%;height:78.80px;background:#ab47bc"></div><div style="position:absolute;left:0;top:0.00px;width:100%;height:2.60px;background:#9a5aa6"></div><div style="position:absolute;inset:0;box-shadow:inset 1px 0 rgba(0,0,0,0.07),inset -1px 0 rgba(0,0,0,0.07)"></div></div>
<div style="position:absolute;left:844.95px;top:494.60px;width:17.6px;height:127.40px;overflow:hidden;border-radius:0.8px 0.8px 0 0"><div style="position:absolute;left:0;top:82.80px;width:100%;height:44.60px;background:#ec407a"></div><div style="position:absolute;left:0;top:2.60px;width:100%;height:80.20px;background:#ab47bc"></div><div style="position:absolute;left:0;top:0.00px;width:100%;height:2.60px;background:#9a5aa6"></div><div style="position:absolute;inset:0;box-shadow:inset 1px 0 rgba(0,0,0,0.07),inset -1px 0 rgba(0,0,0,0.07)"></div></div>
<div style="position:absolute;left:867.14px;top:386.80px;width:17.6px;height:235.20px;overflow:hidden;border-radius:0.8px 0.8px 0 0"><div style="position:absolute;left:0;top:193.00px;width:100%;height:42.20px;background:#ec407a"></div><div style="position:absolute;left:0;top:2.60px;width:100%;height:190.40px;background:#ab47bc"></div><div style="position:absolute;left:0;top:0.00px;width:100%;height:2.60px;background:#9a5aa6"></div><div style="position:absolute;inset:0;box-shadow:inset 1px 0 rgba(0,0,0,0.07),inset -1px 0 rgba(0,0,0,0.07)"></div></div>
<div style="position:absolute;left:889.32px;top:481.20px;width:17.6px;height:140.80px;overflow:hidden;border-radius:0.8px 0.8px 0 0"><div style="position:absolute;left:0;top:105.90px;width:100%;height:34.90px;background:#ec407a"></div><div style="position:absolute;left:0;top:2.60px;width:100%;height:103.30px;background:#ab47bc"></div><div style="position:absolute;left:0;top:0.00px;width:100%;height:2.60px;background:#9a5aa6"></div><div style="position:absolute;inset:0;box-shadow:inset 1px 0 rgba(0,0,0,0.07),inset -1px 0 rgba(0,0,0,0.07)"></div></div>
<div style="position:absolute;left:911.51px;top:469.70px;width:17.6px;height:152.30px;overflow:hidden;border-radius:0.8px 0.8px 0 0"><div style="position:absolute;left:0;top:122.00px;width:100%;height:30.30px;background:#ec407a"></div><div style="position:absolute;left:0;top:2.60px;width:100%;height:119.40px;background:#ab47bc"></div><div style="position:absolute;left:0;top:0.00px;width:100%;height:2.60px;background:#9a5aa6"></div><div style="position:absolute;inset:0;box-shadow:inset 1px 0 rgba(0,0,0,0.07),inset -1px 0 rgba(0,0,0,0.07)"></div></div>
<div style="position:absolute;left:933.69px;top:468.40px;width:17.6px;height:153.60px;overflow:hidden;border-radius:0.8px 0.8px 0 0"><div style="position:absolute;left:0;top:128.00px;width:100%;height:25.60px;background:#ec407a"></div><div style="position:absolute;left:0;top:2.60px;width:100%;height:125.40px;background:#ab47bc"></div><div style="position:absolute;left:0;top:0.00px;width:100%;height:2.60px;background:#9a5aa6"></div><div style="position:absolute;inset:0;box-shadow:inset 1px 0 rgba(0,0,0,0.07),inset -1px 0 rgba(0,0,0,0.07)"></div></div>
<div style="position:absolute;left:955.87px;top:467.90px;width:17.6px;height:154.10px;overflow:hidden;border-radius:0.8px 0.8px 0 0"><div style="position:absolute;left:0;top:134.90px;width:100%;height:19.20px;background:#ec407a"></div><div style="position:absolute;left:0;top:2.60px;width:100%;height:132.30px;background:#ab47bc"></div><div style="position:absolute;left:0;top:0.00px;width:100%;height:2.60px;background:#9a5aa6"></div><div style="position:absolute;inset:0;box-shadow:inset 1px 0 rgba(0,0,0,0.07),inset -1px 0 rgba(0,0,0,0.07)"></div></div>
<div style="position:absolute;left:978.06px;top:467.50px;width:17.6px;height:154.50px;overflow:hidden;border-radius:0.8px 0.8px 0 0"><div style="position:absolute;left:0;top:141.70px;width:100%;height:12.80px;background:#ec407a"></div><div style="position:absolute;left:0;top:2.60px;width:100%;height:139.10px;background:#ab47bc"></div><div style="position:absolute;left:0;top:0.00px;width:100%;height:2.60px;background:#9a5aa6"></div><div style="position:absolute;inset:0;box-shadow:inset 1px 0 rgba(0,0,0,0.07),inset -1px 0 rgba(0,0,0,0.07)"></div></div>
<div style="position:absolute;left:1000.24px;top:483.60px;width:17.6px;height:138.40px;overflow:hidden;border-radius:0.8px 0.8px 0 0"><div style="position:absolute;left:0;top:72.10px;width:100%;height:66.30px;background:#1e88e5"></div><div style="position:absolute;left:0;top:66.90px;width:100%;height:5.20px;background:#ec407a"></div><div style="position:absolute;left:0;top:2.60px;width:100%;height:64.30px;background:#ab47bc"></div><div style="position:absolute;left:0;top:0.00px;width:100%;height:2.60px;background:#9a5aa6"></div><div style="position:absolute;inset:0;box-shadow:inset 1px 0 rgba(0,0,0,0.07),inset -1px 0 rgba(0,0,0,0.07)"></div></div>
<div class="t" style="left:188.234px;transform:translateX(-50%);top:632.7px;font-size:10.8px;line-height:15px;color:#666;font-weight:400;">48</div>
<div class="t" style="left:232.60200000000003px;transform:translateX(-50%);top:632.7px;font-size:10.8px;line-height:15px;color:#666;font-weight:400;">50</div>
<div class="t" style="left:276.97px;transform:translateX(-50%);top:632.7px;font-size:10.8px;line-height:15px;color:#666;font-weight:400;">52</div>
<div class="t" style="left:321.338px;transform:translateX(-50%);top:632.7px;font-size:10.8px;line-height:15px;color:#666;font-weight:400;">54</div>
<div class="t" style="left:365.706px;transform:translateX(-50%);top:632.7px;font-size:10.8px;line-height:15px;color:#666;font-weight:400;">56</div>
<div class="t" style="left:410.074px;transform:translateX(-50%);top:632.7px;font-size:10.8px;line-height:15px;color:#666;font-weight:400;">58</div>
<div class="t" style="left:454.442px;transform:translateX(-50%);top:632.7px;font-size:10.8px;line-height:15px;color:#666;font-weight:400;">60</div>
<div class="t" style="left:498.81px;transform:translateX(-50%);top:632.7px;font-size:10.8px;line-height:15px;color:#666;font-weight:400;">62</div>
<div class="t" style="left:543.1780000000001px;transform:translateX(-50%);top:632.7px;font-size:10.8px;line-height:15px;color:#666;font-weight:400;">64</div>
<div class="t" style="left:587.546px;transform:translateX(-50%);top:632.7px;font-size:10.8px;line-height:15px;color:#666;font-weight:400;">66</div>
<div class="t" style="left:631.914px;transform:translateX(-50%);top:632.7px;font-size:10.8px;line-height:15px;color:#666;font-weight:400;">68</div>
<div class="t" style="left:676.282px;transform:translateX(-50%);top:632.7px;font-size:10.8px;line-height:15px;color:#666;font-weight:400;">70</div>
<div class="t" style="left:720.6500000000001px;transform:translateX(-50%);top:632.7px;font-size:10.8px;line-height:15px;color:#666;font-weight:400;">72</div>
<div class="t" style="left:765.018px;transform:translateX(-50%);top:632.7px;font-size:10.8px;line-height:15px;color:#666;font-weight:400;">74</div>
<div class="t" style="left:809.386px;transform:translateX(-50%);top:632.7px;font-size:10.8px;line-height:15px;color:#666;font-weight:400;">76</div>
<div class="t" style="left:853.7540000000001px;transform:translateX(-50%);top:632.7px;font-size:10.8px;line-height:15px;color:#666;font-weight:400;">78</div>
<div class="t" style="left:898.1220000000001px;transform:translateX(-50%);top:632.7px;font-size:10.8px;line-height:15px;color:#666;font-weight:400;">80</div>
<div class="t" style="left:942.49px;transform:translateX(-50%);top:632.7px;font-size:10.8px;line-height:15px;color:#666;font-weight:400;">82</div>
<div style="position:absolute;left:199.8px;top:313.0px;width:21.2px;height:21.2px;border-radius:50%;background:#f5a125;opacity:0.45"><svg style="position:absolute;left:3.1px;top:3.1px;color:#fff;opacity:0.4" width="15" height="15" viewBox="0 0 24 24" fill="#fff"><path d="M12 2a3 3 0 1 1 0 6 3 3 0 0 1 0-6zM8 9h8l-1 7h-1.5v6h-3v-6H9z" /></svg></div>
<div style="position:absolute;left:199.8px;top:337.2px;width:21.2px;height:21.2px;border-radius:50%;background:#5c6bc0;opacity:0.5"><svg style="position:absolute;left:3.1px;top:3.1px;color:#fff;opacity:0.4" width="15" height="15" viewBox="0 0 24 24" fill="#fff"><path d="M9 9.5V6.5a3 3 0 0 1 6 0v3" fill="none" stroke="#fff" stroke-width="2"/><path d="M6.5 9.5h11l3 11.5h-17z" /></svg></div>
<div style="position:absolute;left:199.8px;top:360.7px;width:21.2px;height:21.2px;border-radius:50%;background:#f5a125;opacity:1.0"><svg style="position:absolute;left:3.1px;top:3.1px;color:#fff;opacity:1.0" width="15" height="15" viewBox="0 0 24 24" fill="#fff"><path d="M3 11C4 6 8 4 12 4s8 2 9 7zM11 11h2v8h-2zM6 19h12v2H6z" /></svg></div>
<div style="position:absolute;left:266.2px;top:346.4px;width:21.2px;height:21.2px;border-radius:50%;background:#f5a125;opacity:0.45"><svg style="position:absolute;left:3.1px;top:3.1px;color:#fff;opacity:0.4" width="15" height="15" viewBox="0 0 24 24" fill="#fff"><path d="M12 2a3 3 0 1 1 0 6 3 3 0 0 1 0-6zM8 9h8l-1 7h-1.5v6h-3v-6H9z" /></svg></div>
<div style="position:absolute;left:311.3px;top:336.1px;width:21.2px;height:21.2px;border-radius:50%;background:#5c6bc0;opacity:0.5"><svg style="position:absolute;left:3.1px;top:3.1px;color:#fff;opacity:0.4" width="15" height="15" viewBox="0 0 24 24" fill="#fff"><path d="M9 9.5V6.5a3 3 0 0 1 6 0v3" fill="none" stroke="#fff" stroke-width="2"/><path d="M6.5 9.5h11l3 11.5h-17z" /></svg></div>
<div style="position:absolute;left:333.0px;top:305.9px;width:21.2px;height:21.2px;border-radius:50%;background:#009688;opacity:0.36"><svg style="position:absolute;left:3.1px;top:3.1px;color:#fff;opacity:0.4" width="15" height="15" viewBox="0 0 24 24" fill="#fff"><path d="M5 2h14v20H5zM7 4v2h2V4zm4 0v2h2V4zm4 0v2h2V4zM7 8v2h2V8zm4 0v2h2V8zm4 0v2h2V8zM7 12v2h2v-2zm4 0v2h2v-2zm4 0v2h2v-2zM7 16v2h2v-2zm4 0v2h2v-2zm4 0v2h2v-2z" /></svg></div>
<div style="position:absolute;left:333.0px;top:329.8px;width:21.2px;height:21.2px;border-radius:50%;background:#2e88e8;opacity:1.0"><svg style="position:absolute;left:3.1px;top:3.1px;color:#fff;opacity:1.0" width="15" height="15" viewBox="0 0 24 24" fill="#fff"><path d="M5 3h2v19H5z" /><path d="M7 4c3-1.5 5 1 8 0s4-1 5 0v9c-1-1-2-1-5 0s-5-1.5-8 0z" /></svg></div>
<div style="position:absolute;left:355.1px;top:403.6px;width:21.2px;height:21.2px;border-radius:50%;background:#5c6bc0;opacity:0.5"><svg style="position:absolute;left:3.1px;top:3.1px;color:#fff;opacity:0.4" width="15" height="15" viewBox="0 0 24 24" fill="#fff"><path d="M5 11l2-6h10l2 6v8h-2.5v-2h-9v2H5zM7.5 10h9l-1.2-3.5H8.7zM7 12.5a1.3 1.3 0 1 0 0 2.6 1.3 1.3 0 0 0 0-2.6zm10 0a1.3 1.3 0 1 0 0 2.6 1.3 1.3 0 0 0 0-2.6z" /></svg></div>
<div style="position:absolute;left:355.1px;top:427.3px;width:21.2px;height:21.2px;border-radius:50%;background:#f5a125;opacity:1.0"><svg style="position:absolute;left:3.1px;top:3.1px;color:#fff;opacity:1.0" width="15" height="15" viewBox="0 0 24 24" fill="#fff"><path d="M12 21l-1.5-1.3C5.4 15.1 2 12 2 8.3 2 5.3 4.4 3 7.5 3c1.7 0 3.4.8 4.5 2.1C13.1 3.8 14.8 3 16.5 3 19.6 3 22 5.3 22 8.3c0 1.1-.3 2.2-.8 3.2A6 6 0 0 0 13 18.5z" /><path d="M17 13h2v3h3v2h-3v3h-2v-3h-3v-2h3z" /></svg></div>
<div style="position:absolute;left:355.1px;top:450.6px;width:21.2px;height:21.2px;border-radius:50%;background:#12978a;opacity:1.0"><svg style="position:absolute;left:3.1px;top:3.1px;color:#fff;opacity:1.0" width="15" height="15" viewBox="0 0 24 24" fill="#fff"><g fill="none" stroke="currentColor" stroke-linecap="round"><path d="M12.6 8.5C14.2 12.5 13.8 17 11.6 21.6" stroke-width="2.2"/><path d="M12.5 7.6C10 5.6 6 5.8 3.6 8.4" stroke-width="2"/><path d="M12.4 7.8C9.6 8.5 7.8 11 7.6 15.2" stroke-width="1.8"/><path d="M12.5 7.6C15.2 6 18.6 7 20.6 10" stroke-width="2"/><path d="M12.8 8C14.6 9 15.8 10.8 16.2 13.4" stroke-width="1.6"/><path d="M12.4 7.4C11.6 5.2 10.4 3.8 8.6 3.2" stroke-width="1.6"/></g></svg></div>
<div style="position:absolute;left:377.2px;top:440.0px;width:21.2px;height:21.2px;border-radius:50%;background:#009688;opacity:0.36"><svg style="position:absolute;left:3.1px;top:3.1px;color:#fff;opacity:0.4" width="15" height="15" viewBox="0 0 24 24" fill="#fff"><path d="M5 2h14v20H5zM7 4v2h2V4zm4 0v2h2V4zm4 0v2h2V4zM7 8v2h2V8zm4 0v2h2V8zm4 0v2h2V8zM7 12v2h2v-2zm4 0v2h2v-2zm4 0v2h2v-2zM7 16v2h2v-2zm4 0v2h2v-2zm4 0v2h2v-2z" /></svg></div>
<div style="position:absolute;left:399.2px;top:533.7px;width:21.2px;height:21.2px;border-radius:50%;background:#e2366f;opacity:1.0"><svg style="position:absolute;left:3.1px;top:3.1px;color:#fff;opacity:1.0" width="15" height="15" viewBox="0 0 24 24" fill="#fff"><g fill="none" stroke="currentColor" stroke-linecap="round"><path d="M12.6 8.5C14.2 12.5 13.8 17 11.6 21.6" stroke-width="2.2"/><path d="M12.5 7.6C10 5.6 6 5.8 3.6 8.4" stroke-width="2"/><path d="M12.4 7.8C9.6 8.5 7.8 11 7.6 15.2" stroke-width="1.8"/><path d="M12.5 7.6C15.2 6 18.6 7 20.6 10" stroke-width="2"/><path d="M12.8 8C14.6 9 15.8 10.8 16.2 13.4" stroke-width="1.6"/><path d="M12.4 7.4C11.6 5.2 10.4 3.8 8.6 3.2" stroke-width="1.6"/></g></svg></div>
<div style="position:absolute;left:421.6px;top:512.9px;width:21.2px;height:21.2px;border-radius:50%;background:#f5a125;opacity:1.0"><svg style="position:absolute;left:3.1px;top:3.1px;color:#fff;opacity:1.0" width="15" height="15" viewBox="0 0 24 24" fill="#fff"><path d="M6.5 18a4.5 4.5 0 0 1-.6-9A6.5 6.5 0 0 1 18.4 9 4.5 4.5 0 0 1 18 18h-2" fill="none" stroke="#fff" stroke-width="1.8"/><path d="M12 11v9M9 17l3 3 3-3" fill="none" stroke="#fff" stroke-width="1.8"/></svg></div>
<div style="position:absolute;left:709.7px;top:468.4px;width:21.2px;height:21.2px;border-radius:50%;background:#f5a125;opacity:0.33"><svg style="position:absolute;left:3.1px;top:3.1px;color:#fff;opacity:0.4" width="15" height="15" viewBox="0 0 24 24" fill="#fff"></svg></div>
<div style="position:absolute;left:732.2px;top:443.6px;width:21.2px;height:21.2px;border-radius:50%;background:#78909c;opacity:1.0"><svg style="position:absolute;left:3.1px;top:3.1px;color:#fff;opacity:1.0" width="15" height="15" viewBox="0 0 24 24" fill="#fff"><path d="M12 21.4l-1.5-1.3C5.4 15.4 2 12.3 2 8.5 2 5.4 4.4 3 7.5 3c1.7 0 3.4.8 4.5 2.1C13.1 3.8 14.8 3 16.5 3 19.6 3 22 5.4 22 8.5c0 3.8-3.4 6.9-8.5 11.5z" /><path d="M1.5 12.2h7l1.5-2.6 2.2 5 1.8-3.2 1.2.8h7.3" fill="none" stroke="#78909c" stroke-width="1.6"/></svg></div>
<div style="position:absolute;left:732.2px;top:468.4px;width:21.2px;height:21.2px;border-radius:50%;background:#78909c;opacity:1.0"><svg style="position:absolute;left:3.1px;top:3.1px;color:#fff;opacity:1.0" width="15" height="15" viewBox="0 0 24 24" fill="#fff"><path d="M4 13h16v2H4zM4 16.5h16v2H4zM4 20h16v2H4z" /><path d="M8 11V5h8v5" fill="none" stroke="#fff" stroke-width="2"/><path d="M13 9h6l-3 3.5z" /></svg></div>
<div style="position:absolute;left:776.6px;top:441.7px;width:21.2px;height:21.2px;border-radius:50%;background:#e02860;opacity:1.0"><svg style="position:absolute;left:3.1px;top:3.1px;color:#fff;opacity:1.0" width="15" height="15" viewBox="0 0 24 24" fill="#fff"><circle cx="10.7" cy="4.6" r="2.4" fill="none" stroke="#fff" stroke-width="2"/><circle cx="5.2" cy="12.2" r="2.4" fill="none" stroke="#fff" stroke-width="2"/><path d="M11.4 7l3.4 11.6M7.4 11.6l14-3" stroke="#fff" stroke-width="2"/><path d="M1.5 19.8h21" stroke="#fff" stroke-width="2" stroke-dasharray="2.8 2"/></svg></div>
<div style="position:absolute;left:776.6px;top:465.7px;width:21.2px;height:21.2px;border-radius:50%;background:#e02860;opacity:1.0"><svg style="position:absolute;left:3.1px;top:3.1px;color:#fff;opacity:1.0" width="15" height="15" viewBox="0 0 24 24" fill="#fff"><circle cx="10.7" cy="4.6" r="2.4" fill="none" stroke="#fff" stroke-width="2"/><circle cx="5.2" cy="12.2" r="2.4" fill="none" stroke="#fff" stroke-width="2"/><path d="M11.4 7l3.4 11.6M7.4 11.6l14-3" stroke="#fff" stroke-width="2"/><path d="M1.5 19.8h21" stroke="#fff" stroke-width="2" stroke-dasharray="2.8 2"/></svg></div>
<div style="position:absolute;left:865.1px;top:354.7px;width:21.2px;height:21.2px;border-radius:50%;background:#f5a125;opacity:1.0"><svg style="position:absolute;left:3.1px;top:3.1px;color:#fff;opacity:1.0" width="15" height="15" viewBox="0 0 24 24" fill="#fff"><path d="M6.5 18a4.5 4.5 0 0 1-.6-9A6.5 6.5 0 0 1 18.4 9 4.5 4.5 0 0 1 18 18h-2" fill="none" stroke="#fff" stroke-width="1.8"/><path d="M12 11v9M9 17l3 3 3-3" fill="none" stroke="#fff" stroke-width="1.8"/></svg></div>
<div style="position:absolute;left:909.7px;top:437.1px;width:21.2px;height:21.2px;border-radius:50%;background:#f5a125;opacity:1.0"><svg style="position:absolute;left:3.1px;top:3.1px;color:#fff;opacity:1.0" width="15" height="15" viewBox="0 0 24 24" fill="#fff"><path d="M9 3h6v3h-2V5h-2v1H9zM3 7h18v13H3z" /><path d="M12 10v7M8.5 13.5h7" stroke="#f0a030" stroke-width="2"/></svg></div>
<div style="position:absolute;left:998.4px;top:451.1px;width:21.2px;height:21.2px;border-radius:50%;background:#78909c;opacity:1.0"><svg style="position:absolute;left:3.6px;top:3.6px;color:#fff;opacity:1.0" width="14" height="14" viewBox="0 0 24 24" fill="#fff"><path d="M12 21.4l-1.5-1.3C5.4 15.4 2 12.3 2 8.5 2 5.4 4.4 3 7.5 3c1.7 0 3.4.8 4.5 2.1C13.1 3.8 14.8 3 16.5 3 19.6 3 22 5.4 22 8.5c0 3.8-3.4 6.9-8.5 11.5z" /><path d="M1.5 12.2h7l1.5-2.6 2.2 5 1.8-3.2 1.2.8h7.3" fill="none" stroke="#78909c" stroke-width="1.6"/></svg></div>
<div style="position:absolute;left:742.20px;top:300.00px;width:1.80px;height:322.00px;background:#3a3d40;"></div>
<div style="position:absolute;background:rgba(255,255,255,0.96);border-radius:16px;box-shadow:0 3px 16px rgba(0,0,0,0.2);left:508.5px;top:370px;width:217.5px;height:72px"></div>
<div style="position:absolute;left:523.0px;top:380.8px;width:21.0px;height:21.0px;border-radius:50%;background:#78909c;opacity:1.0"><svg style="position:absolute;left:3.0px;top:3.0px;color:#fff;opacity:1.0" width="15" height="15" viewBox="0 0 24 24" fill="#fff"><path d="M12 21.4l-1.5-1.3C5.4 15.4 2 12.3 2 8.5 2 5.4 4.4 3 7.5 3c1.7 0 3.4.8 4.5 2.1C13.1 3.8 14.8 3 16.5 3 19.6 3 22 5.4 22 8.5c0 3.8-3.4 6.9-8.5 11.5z" /><path d="M1.5 12.2h7l1.5-2.6 2.2 5 1.8-3.2 1.2.8h7.3" fill="none" stroke="#78909c" stroke-width="1.6"/></svg></div>
<div style="position:absolute;left:523.0px;top:410.0px;width:21.0px;height:21.0px;border-radius:50%;background:#78909c;opacity:1.0"><svg style="position:absolute;left:3.0px;top:3.0px;color:#fff;opacity:1.0" width="15" height="15" viewBox="0 0 24 24" fill="#fff"><path d="M4 13h16v2H4zM4 16.5h16v2H4zM4 20h16v2H4z" /><path d="M8 11V5h8v5" fill="none" stroke="#fff" stroke-width="2"/><path d="M13 9h6l-3 3.5z" /></svg></div>
<div class="t" style="left:551.7px;top:384.8px;font-size:9.8px;line-height:13px;color:#222;font-weight:400;">Spouse's Life Expectancy</div>
<div class="t" style="left:551.7px;top:413.8px;font-size:9.8px;line-height:13px;color:#222;font-weight:400;">Assets transferred to You</div>
<div style="position:absolute;background:rgba(255,255,255,0.96);border-radius:16px;box-shadow:0 3px 16px rgba(0,0,0,0.2);left:509px;top:456.5px;width:217px;height:145px"></div>
<svg style="position:absolute;left:523.5px;top:470.5px;" width="17" height="17" viewBox="0 0 24 24" fill="#111"><circle cx="11.5" cy="13" r="8.6" fill="none" stroke="#111" stroke-width="2.2"/><path d="M3.2 12.8A8.6 8.6 0 0 1 19.2 9.2C16 10.6 12.4 10.2 10 7.6 8.6 10.4 6 12.3 3.2 12.8z" /><circle cx="8.6" cy="14.6" r="1.25"/><circle cx="14.4" cy="14.6" r="1.25"/><circle cx="18.6" cy="6.1" r="3.2" fill="#fff"/><path d="M18.6 3.4l.8 1.9 1.9.8-1.9.8-.8 1.9-.8-1.9-1.9-.8 1.9-.8z" /></svg>
<div class="t" style="left:544.5px;top:472.1px;font-size:11.3px;line-height:15px;color:#111;font-weight:700;">Age 73</div>
<svg style="position:absolute;left:522.5px;top:493.0px;" width="18" height="18" viewBox="0 0 24 24" fill="#111"><path d="M17 12h-5v5h5v-5zM16 1v2H8V1H6v2H5c-1.11 0-1.99.9-1.99 2L3 19c0 1.1.89 2 2 2h14c1.1 0 2-.9 2-2V5c0-1.1-.9-2-2-2h-1V1h-2zm3 18H5V8h14v11z" /></svg>
<div class="t" style="left:548.3px;top:495.5px;font-size:11.3px;line-height:15px;color:#111;font-weight:700;">Mar 5, 2052</div>
<div style="position:absolute;left:522.40px;top:522.50px;width:190.00px;height:1.00px;background:#e6e6e6;"></div>
<div style="position:absolute;left:525.00px;top:533.50px;width:13.00px;height:13.00px;background:#78909c;border-radius:3px"></div>
<div class="t" style="left:548.3px;top:532.5px;font-size:11.2px;line-height:15px;color:#333;font-weight:400;letter-spacing:0.15px">Ordinary Investment Income: <b style="color:#111">$3</b></div>
<div style="position:absolute;left:525.00px;top:551.50px;width:13.00px;height:13.00px;background:#ab47bc;border-radius:3px"></div>
<div class="t" style="left:548.3px;top:550.5px;font-size:11.2px;line-height:15px;color:#333;font-weight:400;letter-spacing:0.15px">Taxable Distributions: <b style="color:#111">$150,864</b></div>
<div style="position:absolute;left:525.00px;top:570.20px;width:13.00px;height:13.00px;background:#1e88e5;border-radius:3px"></div>
<div class="t" style="left:548.3px;top:569.2px;font-size:11.2px;line-height:15px;color:#333;font-weight:400;letter-spacing:0.15px">Tax-Free Distributions: <b style="color:#111">$16,000</b></div>
<svg style="position:absolute;left:1034.5px;top:360.0px;" width="18" height="18" viewBox="0 0 24 24" fill="#808080"><path d="M5 2.5h2v20H5z" /><path d="M7 3.5c3-1.5 5 1 8 0s4-1 5 0v9c-1-1-2-1-5 0s-5-1.5-8 0z" /></svg>
<div style="position:absolute;left:1036.50px;top:386.20px;width:14.00px;height:12.00px;background:#fff;border:2px solid #6f6f6f;box-sizing:border-box"></div>
<div class="t" style="left:1061px;top:360.5px;font-size:11.5px;line-height:16px;color:#888;font-weight:400;letter-spacing:0.2px">Icons</div>
<div class="t" style="left:1061px;top:384.0px;font-size:11.5px;line-height:16px;color:#777;font-weight:400;text-decoration:line-through;letter-spacing:0.1px">Effective Tax Rate</div>
<div style="position:absolute;left:1036.50px;top:409.80px;width:14.00px;height:12.00px;background:#43a047;"></div>
<div class="t" style="left:1061px;top:408.3px;font-size:11.4px;line-height:15px;color:#5f9c62;font-weight:400;letter-spacing:0.08px">Employer Contributions</div>
<div style="position:absolute;left:1036.50px;top:433.10px;width:14.00px;height:12.00px;background:#5c6bc0;"></div>
<div class="t" style="left:1061px;top:431.6px;font-size:11.4px;line-height:15px;color:#5f67ab;font-weight:400;letter-spacing:0.08px">LTCG Income</div>
<div style="position:absolute;left:1036.50px;top:456.40px;width:14.00px;height:12.00px;background:#78909c;"></div>
<div class="t" style="left:1061px;top:454.9px;font-size:11.4px;line-height:15px;color:#8d9aa2;font-weight:400;letter-spacing:0.08px">Ordinary Investment Income</div>
<div style="position:absolute;left:1036.50px;top:479.70px;width:14.00px;height:12.00px;background:#ab47bc;"></div>
<div class="t" style="left:1061px;top:478.2px;font-size:11.4px;line-height:15px;color:#9d62ab;font-weight:400;letter-spacing:0.08px">Taxable Distributions</div>
<div style="position:absolute;left:1036.50px;top:503.00px;width:14.00px;height:12.00px;background:#ec407a;"></div>
<div class="t" style="left:1061px;top:501.5px;font-size:11.4px;line-height:15px;color:#c45a7e;font-weight:400;letter-spacing:0.08px">RMDs</div>
<div style="position:absolute;left:1036.50px;top:526.30px;width:14.00px;height:12.00px;background:#1e88e5;"></div>
<div class="t" style="left:1061px;top:524.8px;font-size:11.4px;line-height:15px;color:#3f80b2;font-weight:400;letter-spacing:0.08px">Tax-Free Distributions</div>
<div style="position:absolute;left:1036.50px;top:549.60px;width:14.00px;height:12.00px;background:#009688;"></div>
<div class="t" style="left:1061px;top:548.1px;font-size:11.4px;line-height:15px;color:#2f8178;font-weight:400;letter-spacing:0.08px">Your Wage Income</div>
<div class="t" style="left:627.3px;top:663.2px;font-size:12px;line-height:16px;color:#333;font-weight:700;">Full Plan</div>
<svg style="position:absolute;left:681.6px;top:660.5px;" width="20" height="20" viewBox="0 0 24 24" fill="#888"><path d="M7 10l5 5 5-5z" /></svg>
<svg style="position:absolute;left:129.1px;top:681.0px;" width="17.5" height="17.5" viewBox="0 0 24 24" fill="#222"><circle cx="11.5" cy="13" r="8.6" fill="none" stroke="#111" stroke-width="2.2"/><path d="M3.2 12.8A8.6 8.6 0 0 1 19.2 9.2C16 10.6 12.4 10.2 10 7.6 8.6 10.4 6 12.3 3.2 12.8z" /><circle cx="8.6" cy="14.6" r="1.25"/><circle cx="14.4" cy="14.6" r="1.25"/><circle cx="18.6" cy="6.1" r="3.2" fill="#fff"/><path d="M18.6 3.4l.8 1.9 1.9.8-1.9.8-.8 1.9-.8-1.9-1.9-.8 1.9-.8z" /></svg>
<div class="t" style="left:150px;top:682.0px;font-size:12.5px;line-height:17px;color:#333;font-weight:400;letter-spacing:0.5px">73</div>
<svg style="position:absolute;left:1102.0px;top:682.5px;" width="16" height="16" viewBox="0 0 24 24" fill="#333"><path d="M17 12h-5v5h5v-5zM16 1v2H8V1H6v2H5c-1.11 0-1.99.9-1.99 2L3 19c0 1.1.89 2 2 2h14c1.1 0 2-.9 2-2V5c0-1.1-.9-2-2-2h-1V1h-2zm3 18H5V8h14v11z" /></svg>
<div class="t" style="left:1120px;top:681.8px;font-size:13px;line-height:18px;color:#444;font-weight:400;letter-spacing:0.45px">03/05/2052</div>
<div style="position:absolute;left:119.00px;top:709.00px;width:741.00px;height:2.60px;background:#3a3a3a;border-radius:1px"></div>
<div style="position:absolute;left:860.00px;top:709.50px;width:343.00px;height:1.00px;background:#e6e6e6;"></div>
<div style="position:absolute;left:853.7px;top:703px;width:14px;height:14px;border-radius:50%;background:#3a3a3a"></div>
<div class="t" style="left:123px;top:751.8px;font-size:14.5px;line-height:20px;color:#111;font-weight:700;">Effective Brackets</div>
<div style="position:absolute;left:122.00px;top:777.00px;width:128.00px;height:3.00px;background:#111;"></div>
<div class="t" style="left:272px;top:751.3px;font-size:15px;line-height:21px;color:#a3a3a3;font-weight:400;letter-spacing:0.02px">Rate Progression</div>
<svg style="position:absolute;left:1051.7px;top:751.8px;" width="17.5" height="17.5" viewBox="0 0 24 24" fill="#555"><path d="M4.25 5.61C6.27 8.2 10 13 10 13v6c0 .55.45 1 1 1h2c.55 0 1-.45 1-1v-6s3.72-4.8 5.74-7.39c.51-.66.04-1.61-.79-1.61H5.04c-.83 0-1.3.95-.79 1.61z" /></svg>
<svg style="position:absolute;left:1095.0px;top:751.5px;" width="18" height="18" viewBox="0 0 24 24" fill="#555"><path d="M19.14 12.94c.04-.3.06-.61.06-.94 0-.32-.02-.64-.07-.94l2.03-1.58c.18-.14.23-.41.12-.61l-1.92-3.32c-.12-.22-.37-.29-.59-.22l-2.39.96c-.5-.38-1.03-.7-1.62-.94l-.36-2.54c-.04-.24-.24-.41-.48-.41h-3.84c-.24 0-.43.17-.47.41l-.36 2.54c-.59.24-1.13.57-1.62.94l-2.39-.96c-.22-.08-.47 0-.59.22L2.74 8.87c-.12.21-.08.47.12.61l2.03 1.58c-.05.3-.09.63-.09.94s.02.64.07.94l-2.03 1.58c-.18.14-.23.41-.12.61l1.92 3.32c.12.22.37.29.59.22l2.39-.96c.5.38 1.03.7 1.62.94l.36 2.54c.05.24.24.41.48.41h3.84c.24 0 .44-.17.47-.41l.36-2.54c.59-.24 1.13-.56 1.62-.94l2.39.96c.22.08.47 0 .59-.22l1.92-3.32c.12-.22.07-.47-.12-.61l-2.01-1.58zM12 15.6c-1.98 0-3.6-1.62-3.6-3.6s1.62-3.6 3.6-3.6 3.6 1.62 3.6 3.6-1.62 3.6-3.6 3.6z" /></svg>
<svg style="position:absolute;left:1139.5px;top:750.0px;" width="19" height="19" viewBox="0 0 24 24" fill="#333"><path d="M11 7h2v2h-2zm0 4h2v6h-2zm1-9C6.48 2 2 6.48 2 12s4.48 10 10 10 10-4.48 10-10S17.52 2 12 2zm0 18c-4.41 0-8-3.59-8-8s3.59-8 8-8 8 3.59 8 8-3.59 8-8 8z" /></svg>
<div class="t" style="left:1162px;top:750.5px;font-size:13px;line-height:18px;color:#555;font-weight:400;">About</div>
<div style="position:absolute;left:157.50px;top:798.00px;width:1.00px;height:8.00px;background:#e0e0e0;"></div>
<div style="position:absolute;left:198.00px;top:798.00px;width:448.50px;height:8.00px;background:#d9a8e0;"></div>
<div style="position:absolute;left:725.00px;top:798.00px;width:448.50px;height:8.00px;background:#c4cad3;"></div>
<div style="position:absolute;left:1279.00px;top:0.00px;width:11.00px;height:806.00px;background:#fff;z-index:6"></div>
<div style="position:absolute;left:1279.00px;top:0.00px;width:9.50px;height:806.00px;background:#f7f7f7;border-left:1px solid #e9e9e9;border-right:1px solid #ededed;box-sizing:border-box;z-index:6"></div>
<div style="position:absolute;left:1282.00px;top:83.50px;width:5.40px;height:369.00px;background:#c1c1c1;border-radius:2.7px;z-index:7"></div>

</body></html>
